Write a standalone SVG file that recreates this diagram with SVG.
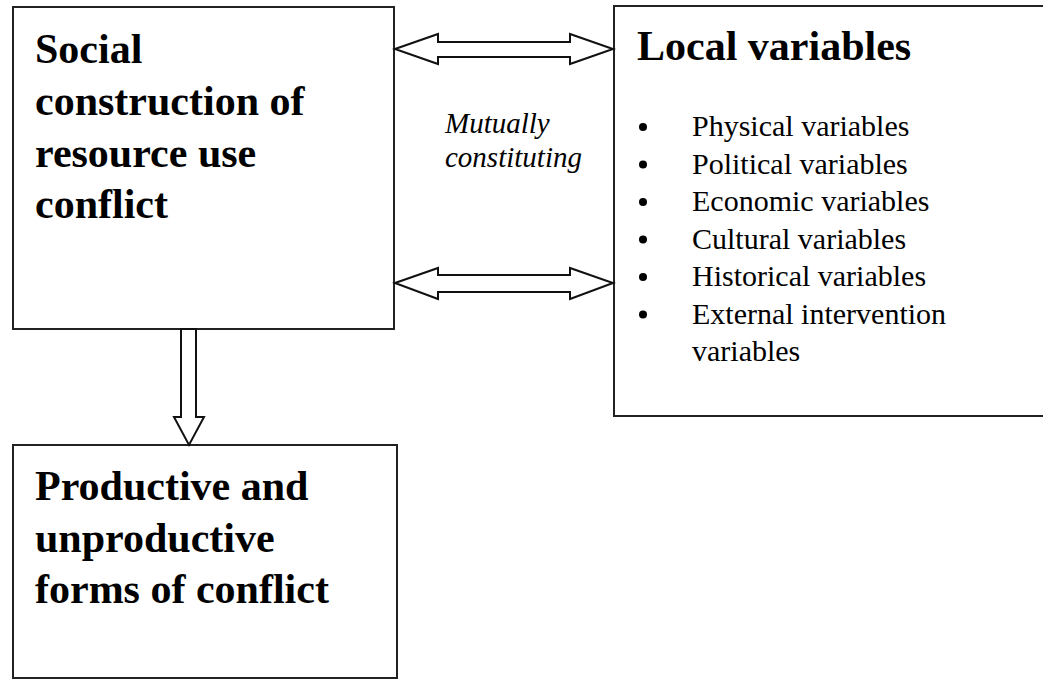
<svg xmlns="http://www.w3.org/2000/svg" width="1043" height="681" viewBox="0 0 1043 681">
<style>
.box{fill:#fff;stroke:#222;stroke-width:2}
.arrow{fill:#fff;stroke:#111;stroke-width:2;stroke-linejoin:miter}
.title{font-family:"Liberation Serif","Times New Roman",serif;font-weight:bold;font-size:42px;fill:#000}
.item{font-family:"Liberation Serif","Times New Roman",serif;font-size:30px;fill:#000}
.lbl{font-family:"Liberation Serif","Times New Roman",serif;font-style:italic;font-size:29px;fill:#000}
.bullet{fill:#000}
</style>
<rect width="1043" height="681" fill="#fff"/>
<g id="social">
<rect class="box" x="13" y="7" width="381" height="322"/>
<text class="title" x="35" y="63">Social</text>
<text class="title" x="35" y="115">construction of</text>
<text class="title" x="35" y="166.5">resource use</text>
<text class="title" x="35" y="218">conflict</text>
</g>
<g id="local">
<rect class="box" x="614" y="6" width="440" height="410"/>
<text class="title" x="637" y="60">Local variables</text>
<circle class="bullet" cx="643" cy="127" r="4"/>
<text class="item" x="692" y="136">Physical variables</text>
<circle class="bullet" cx="643" cy="164.5" r="4"/>
<text class="item" x="692" y="173.5">Political variables</text>
<circle class="bullet" cx="643" cy="202" r="4"/>
<text class="item" x="692" y="211">Economic variables</text>
<circle class="bullet" cx="643" cy="239.5" r="4"/>
<text class="item" x="692" y="248.5">Cultural variables</text>
<circle class="bullet" cx="643" cy="277" r="4"/>
<text class="item" x="692" y="286">Historical variables</text>
<circle class="bullet" cx="643" cy="314.5" r="4"/>
<text class="item" x="692" y="323.5">External intervention</text>
<text class="item" x="692" y="361">variables</text>
</g>
<g id="productive">
<rect class="box" x="13" y="445" width="384" height="233"/>
<text class="title" x="35" y="500">Productive and</text>
<text class="title" x="35" y="551.5">unproductive</text>
<text class="title" x="35" y="603">forms of conflict</text>
</g>
<g id="connectors">
<polygon class="arrow" points="395,49 438,34 438,42 570,42 570,34 613,49 570,64 570,57 438,57 438,64"/>
<polygon class="arrow" points="395,283 438,268 438,275 570,275 570,268 613,283 570,299 570,292 438,292 438,299"/>
<polygon class="arrow" points="181,329 196,329 196,417 204,417 189,445 174,417 181,417"/>
<text class="lbl" x="445" y="133">Mutually</text>
<text class="lbl" x="445" y="167">constituting</text>
</g>
</svg>
